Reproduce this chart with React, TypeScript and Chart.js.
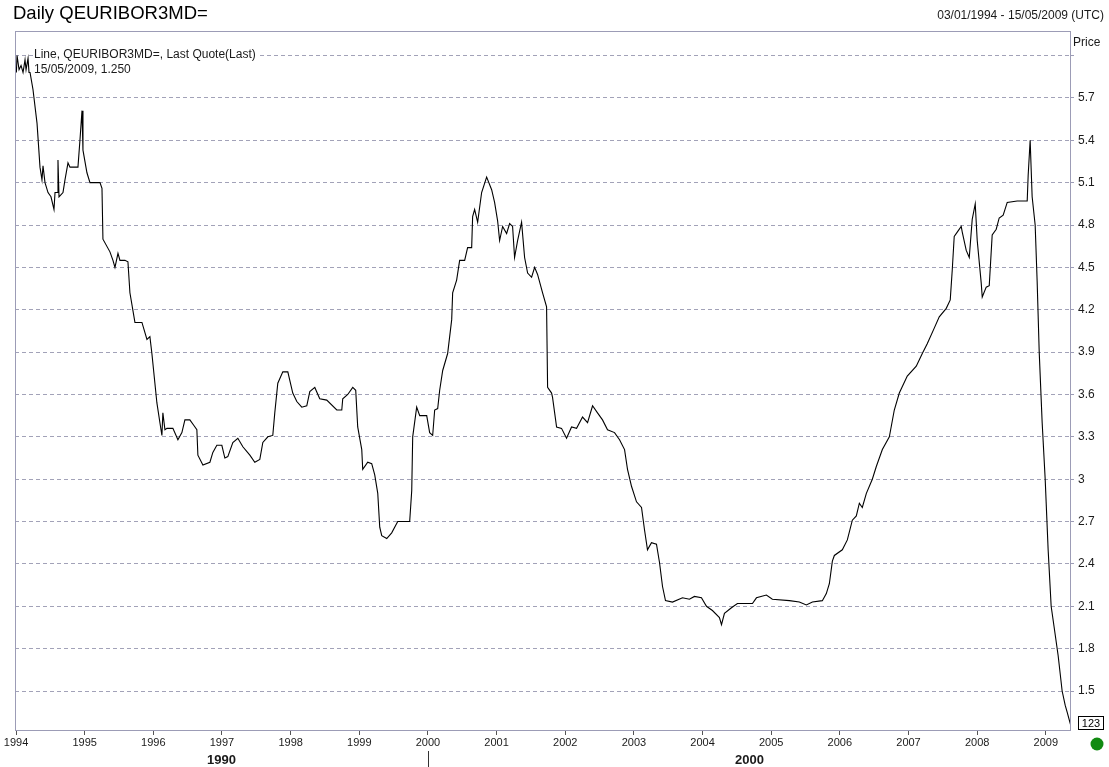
import React, { useEffect, useRef } from 'react';
import { Chart, registerables } from 'chart.js';

Chart.register(...registerables);

const TITLE = 'Daily QEURIBOR3MD=';
const DATE_RANGE = '03/01/1994 - 15/05/2009 (UTC)';
const LEGEND_LINE1 = 'Line, QEURIBOR3MD=, Last Quote(Last)';
const LEGEND_LINE2 = '15/05/2009, 1.250';
const Y_AXIS_TITLE = 'Price';
const LAST_BADGE = '123';

// decimal-year dates of the traced quotes
const dateYears = [
  1994.005, 1994.015, 1994.044, 1994.073, 1994.102, 1994.131, 1994.146, 1994.175, 1994.189, 1994.204,
  1994.247, 1994.306, 1994.349, 1994.378, 1994.393, 1994.422, 1994.466, 1994.509, 1994.553, 1994.568,
  1994.597, 1994.611, 1994.626, 1994.684, 1994.713, 1994.757, 1994.786, 1994.902, 1994.931, 1994.961,
  1994.975, 1995.033, 1995.077, 1995.223, 1995.252, 1995.266, 1995.368, 1995.412, 1995.441, 1995.485,
  1995.514, 1995.586, 1995.630, 1995.659, 1995.732, 1995.834, 1995.907, 1995.950, 1995.979, 1996.052,
  1996.096, 1996.125, 1996.139, 1996.169, 1996.198, 1996.285, 1996.358, 1996.416, 1996.460, 1996.532,
  1996.591, 1996.634, 1996.649, 1996.722, 1996.824, 1996.867, 1996.925, 1996.998, 1997.042, 1997.085,
  1997.158, 1997.231, 1997.304, 1997.406, 1997.478, 1997.551, 1997.595, 1997.668, 1997.740, 1997.769,
  1997.813, 1997.886, 1997.959, 1998.031, 1998.090, 1998.162, 1998.235, 1998.279, 1998.352, 1998.424,
  1998.526, 1998.672, 1998.745, 1998.759, 1998.832, 1998.905, 1998.948, 1998.977, 1999.036, 1999.050,
  1999.123, 1999.181, 1999.225, 1999.269, 1999.298, 1999.327, 1999.400, 1999.472, 1999.560, 1999.662,
  1999.734, 1999.764, 1999.778, 1999.836, 1999.880, 1999.982, 2000.025, 2000.069, 2000.098, 2000.142,
  2000.171, 2000.215, 2000.287, 2000.346, 2000.360, 2000.418, 2000.462, 2000.535, 2000.578, 2000.637,
  2000.651, 2000.680, 2000.724, 2000.782, 2000.855, 2000.928, 2000.971, 2001.015, 2001.044, 2001.088,
  2001.146, 2001.190, 2001.233, 2001.262, 2001.306, 2001.364, 2001.408, 2001.452, 2001.510, 2001.554,
  2001.597, 2001.670, 2001.728, 2001.743, 2001.801, 2001.815, 2001.874, 2001.946, 2002.019, 2002.092,
  2002.165, 2002.252, 2002.325, 2002.398, 2002.470, 2002.543, 2002.616, 2002.718, 2002.791, 2002.864,
  2002.907, 2002.965, 2003.038, 2003.111, 2003.155, 2003.198, 2003.256, 2003.329, 2003.373, 2003.417,
  2003.460, 2003.562, 2003.708, 2003.809, 2003.882, 2003.984, 2004.057, 2004.144, 2004.246, 2004.276,
  2004.319, 2004.421, 2004.508, 2004.727, 2004.785, 2004.930, 2005.017, 2005.265, 2005.410, 2005.512,
  2005.600, 2005.745, 2005.803, 2005.847, 2005.891, 2005.920, 2006.036, 2006.109, 2006.182, 2006.240,
  2006.284, 2006.327, 2006.386, 2006.473, 2006.531, 2006.619, 2006.721, 2006.793, 2006.866, 2006.982,
  2007.113, 2007.201, 2007.273, 2007.375, 2007.448, 2007.550, 2007.608, 2007.637, 2007.666, 2007.710,
  2007.768, 2007.783, 2007.841, 2007.885, 2007.928, 2007.972, 2008.001, 2008.059, 2008.074, 2008.132,
  2008.176, 2008.219, 2008.278, 2008.321, 2008.379, 2008.438, 2008.583, 2008.729, 2008.743, 2008.772,
  2008.801, 2008.845, 2008.874, 2008.904, 2008.947, 2008.991, 2009.034, 2009.078, 2009.122, 2009.180,
  2009.238, 2009.282, 2009.311, 2009.367,
];

// 3-month Euribor quotes (%)
const rates = [
  5.88, 6.00, 5.90, 5.93, 5.88, 5.97, 5.90, 5.98, 5.88, 5.88,
  5.76, 5.52, 5.21, 5.12, 5.22, 5.10, 5.03, 5.00, 4.91, 5.03,
  5.03, 5.26, 5.00, 5.03, 5.12, 5.24, 5.21, 5.21, 5.40, 5.61,
  5.33, 5.17, 5.10, 5.10, 5.06, 4.70, 4.61, 4.55, 4.50, 4.60,
  4.55, 4.55, 4.54, 4.32, 4.11, 4.11, 3.99, 4.01, 3.89, 3.54,
  3.40, 3.31, 3.47, 3.35, 3.36, 3.36, 3.28, 3.33, 3.42, 3.42,
  3.38, 3.35, 3.17, 3.10, 3.12, 3.19, 3.24, 3.24, 3.15, 3.16,
  3.26, 3.29, 3.23, 3.17, 3.12, 3.14, 3.26, 3.30, 3.31, 3.47,
  3.68, 3.76, 3.76, 3.61, 3.55, 3.51, 3.52, 3.62, 3.65, 3.57,
  3.56, 3.49, 3.49, 3.57, 3.60, 3.65, 3.63, 3.37, 3.21, 3.07,
  3.12, 3.11, 3.03, 2.90, 2.66, 2.60, 2.58, 2.62, 2.70, 2.70,
  2.70, 2.92, 3.30, 3.51, 3.45, 3.45, 3.33, 3.31, 3.49, 3.50,
  3.63, 3.77, 3.89, 4.13, 4.32, 4.41, 4.55, 4.55, 4.64, 4.64,
  4.86, 4.91, 4.82, 5.03, 5.14, 5.05, 4.96, 4.83, 4.69, 4.79,
  4.74, 4.81, 4.79, 4.57, 4.69, 4.82, 4.57, 4.46, 4.43, 4.50,
  4.45, 4.32, 4.22, 3.65, 3.61, 3.58, 3.37, 3.36, 3.29, 3.37,
  3.36, 3.44, 3.40, 3.52, 3.47, 3.42, 3.35, 3.33, 3.28, 3.21,
  3.07, 2.95, 2.84, 2.80, 2.64, 2.50, 2.55, 2.54, 2.41, 2.24,
  2.14, 2.13, 2.16, 2.15, 2.17, 2.16, 2.10, 2.07, 2.02, 1.97,
  2.05, 2.09, 2.12, 2.12, 2.16, 2.18, 2.15, 2.14, 2.13, 2.11,
  2.13, 2.14, 2.19, 2.26, 2.42, 2.46, 2.50, 2.57, 2.71, 2.74,
  2.83, 2.80, 2.90, 3.00, 3.09, 3.21, 3.30, 3.49, 3.61, 3.73,
  3.80, 3.89, 3.96, 4.07, 4.15, 4.21, 4.27, 4.48, 4.72, 4.75,
  4.79, 4.75, 4.62, 4.57, 4.84, 4.95, 4.69, 4.39, 4.29, 4.36,
  4.37, 4.73, 4.77, 4.85, 4.87, 4.96, 4.97, 4.97, 5.15, 5.40,
  5.00, 4.80, 4.40, 3.90, 3.40, 3.00, 2.50, 2.10, 1.95, 1.75,
  1.50, 1.40, 1.35, 1.25,
];

const yearTicks = [1994, 1995, 1996, 1997, 1998, 1999, 2000, 2001, 2002, 2003, 2004, 2005, 2006, 2007, 2008, 2009];
const priceTicks = [1.5, 1.8, 2.1, 2.4, 2.7, 3.0, 3.3, 3.6, 3.9, 4.2, 4.5, 4.8, 5.1, 5.4, 5.7, 6.0];
const priceTickLabels = ['1.5', '1.8', '2.1', '2.4', '2.7', '3', '3.3', '3.6', '3.9', '4.2', '4.5', '4.8', '5.1', '5.4', '5.7', ''];
const decadeStarts = [1990, 2000];
const decadeLabels = ['1990', '2000'];

const X_MIN = 1993.985;
const X_MAX = 2009.367;
const Y_MIN = 1.224;
const Y_MAX = 6.174;

const FONT = '"Liberation Sans", Arial, sans-serif';
const FRAME = '#9c9cb6';
const GRID = '#a2a2b8';
const TEXT = '#1a1a1a';

const decorPlugin = {
  id: 'decor',
  afterDraw(chart: any) {
    const { ctx, chartArea: a, scales } = chart;
    const xs = scales.x;
    ctx.save();
    // plot frame
    ctx.strokeStyle = FRAME;
    ctx.lineWidth = 1;
    ctx.setLineDash([]);
    ctx.strokeRect(a.left + 0.5, a.top + 0.5, a.right - a.left - 1, a.bottom - a.top);

    // title
    ctx.fillStyle = '#000';
    ctx.textBaseline = 'middle';
    ctx.textAlign = 'left';
    ctx.font = `18.5px ${FONT}`;
    ctx.fillText(TITLE, 13, 14);

    // date range
    ctx.font = `12px ${FONT}`;
    ctx.fillStyle = TEXT;
    ctx.textAlign = 'right';
    ctx.fillText(DATE_RANGE, 1104, 16);

    // axis title
    ctx.textAlign = 'left';
    ctx.fillText(Y_AXIS_TITLE, 1073, 43);

    // legend
    ctx.font = `12px ${FONT}`;
    const w1 = ctx.measureText(LEGEND_LINE1).width;
    ctx.fillStyle = '#fff';
    ctx.fillRect(33, 49, w1 + 3, 13);
    ctx.fillStyle = TEXT;
    ctx.fillText(LEGEND_LINE1, 34, 55);
    ctx.fillText(LEGEND_LINE2, 34, 70);

    // decade labels
    ctx.font = `bold 13px ${FONT}`;
    ctx.textAlign = 'center';
    ctx.fillStyle = TEXT;
    decadeStarts.forEach((d, i) => {
      const s = Math.max(X_MIN, d);
      const e = Math.min(X_MAX, d + 10);
      const cx = (xs.getPixelForValue(s) + xs.getPixelForValue(e)) / 2;
      ctx.fillText(decadeLabels[i], cx, 760);
      if (d > X_MIN && d < X_MAX) {
        const px = Math.round(xs.getPixelForValue(d)) + 0.5;
        ctx.strokeStyle = '#333';
        ctx.beginPath();
        ctx.moveTo(px, 751);
        ctx.lineTo(px, 767);
        ctx.stroke();
      }
    });

    // last value badge
    ctx.strokeStyle = '#000';
    ctx.lineWidth = 1;
    ctx.fillStyle = '#fff';
    ctx.fillRect(1078.5, 716.5, 25, 13);
    ctx.strokeRect(1078.5, 716.5, 25, 13);
    ctx.fillStyle = '#000';
    ctx.font = `11px ${FONT}`;
    ctx.textAlign = 'center';
    ctx.fillText(LAST_BADGE, 1091, 723.5);

    // status dot
    ctx.fillStyle = '#118a11';
    ctx.beginPath();
    ctx.arc(1097, 744, 6.5, 0, Math.PI * 2);
    ctx.fill();
    ctx.restore();
  },
};

export default function App() {
  const ref = useRef<HTMLCanvasElement>(null);
  useEffect(() => {
    const canvas = ref.current;
    if (!canvas) return;
    const points = dateYears.map((x, i) => ({ x, y: rates[i] }));
    const chart = new Chart(canvas, {
      type: 'line',
      data: {
        datasets: [
          {
            label: 'QEURIBOR3MD=',
            data: points,
            borderColor: '#000',
            borderWidth: 1.1,
            pointRadius: 0,
            tension: 0,
            fill: false,
          },
        ],
      },
      options: {
        animation: false,
        responsive: false,
        maintainAspectRatio: false,
        layout: { padding: { left: 15, top: 31, right: 0, bottom: 0 } },
        plugins: {
          legend: { display: false },
          tooltip: { enabled: false },
          title: { display: false },
        },
        scales: {
          x: {
            type: 'linear',
            position: 'bottom',
            min: X_MIN,
            max: X_MAX,
            afterBuildTicks: (s: any) => {
              s.ticks = yearTicks.map((v) => ({ value: v }));
            },
            afterFit: (s: any) => {
              s.height = 37;
            },
            grid: {
              drawOnChartArea: false,
              drawTicks: true,
              tickLength: 5,
              color: '#555',
              tickColor: '#555',
            },
            border: { display: false },
            ticks: {
              autoSkip: false,
              maxRotation: 0,
              padding: 1,
              color: TEXT,
              font: { family: FONT, size: 11 },
              callback: (v: any) => String(v),
            },
          },
          y: {
            type: 'linear',
            position: 'right',
            min: Y_MIN,
            max: Y_MAX,
            afterBuildTicks: (s: any) => {
              s.ticks = priceTicks.map((v) => ({ value: v }));
            },
            afterFit: (s: any) => {
              s.width = 38;
            },
            grid: {
              color: GRID,
              lineWidth: 1,
              drawTicks: true,
              tickLength: 3,
              tickColor: FRAME,
            },
            border: { display: false, dash: [4, 3] },
            ticks: {
              autoSkip: false,
              padding: 4,
              color: TEXT,
              font: { family: FONT, size: 12 },
              callback: (v: any) => {
                const i = priceTicks.indexOf(v);
                return i >= 0 ? priceTickLabels[i] : '';
              },
            },
          },
        },
      },
      plugins: [decorPlugin],
    });
    return () => chart.destroy();
  }, []);

  return (
    <div style={{ position: 'absolute', left: 0, top: 0, width: 1109, height: 767, background: '#fff' }}>
      <canvas ref={ref} width={1109} height={767} style={{ width: 1109, height: 767, display: 'block' }} />
    </div>
  );
}
